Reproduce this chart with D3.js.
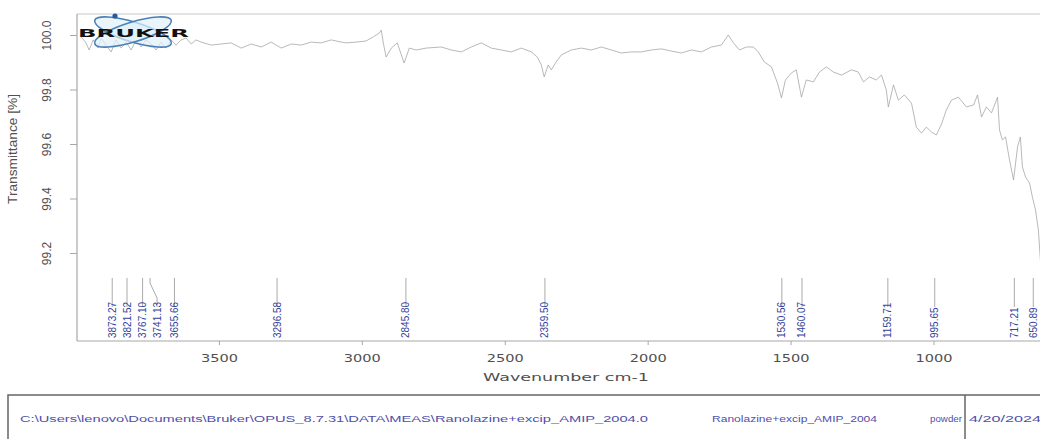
<!DOCTYPE html>
<html>
<head>
<meta charset="utf-8">
<script src="https://cdn.jsdelivr.net/npm/d3@7"></script>
<style>
  body { margin: 0; background: #fff; }
  svg { display: block; }
</style>
</head>
<body>
<div id="chart-area"></div>
<script>
// spectrum points (wavenumber cm-1, transmittance %)
var wavenumbers = [3982, 3965, 3954, 3940, 3923, 3912, 3895, 3877, 3860, 3842, 3825, 3807, 3790, 3772, 3755, 3737, 3720, 3702, 3685, 3667,
  3650, 3632, 3615, 3597, 3580, 3562, 3527, 3492, 3457, 3422, 3387, 3352, 3317, 3282, 3247, 3212, 3177, 3142, 3107, 3072,
  3055, 3020, 2985, 2960, 2939, 2932, 2925, 2915, 2897, 2876, 2852, 2834, 2810, 2775, 2722, 2687, 2652, 2617, 2582, 2547,
  2512, 2477, 2442, 2407, 2386, 2372, 2362, 2348, 2337, 2320, 2302, 2267, 2232, 2197, 2162, 2127, 2092, 2057, 2022, 1987,
  1952, 1917, 1882, 1847, 1812, 1777, 1742, 1718, 1700, 1679, 1655, 1630, 1613, 1592, 1567, 1546, 1532, 1518, 1497, 1480,
  1462, 1445, 1420, 1399, 1375, 1350, 1322, 1287, 1263, 1245, 1224, 1200, 1182, 1165, 1158, 1140, 1123, 1102, 1077, 1060,
  1042, 1025, 1007, 990, 972, 955, 937, 913, 885, 860, 846, 832, 815, 797, 776, 769, 759, 748, 734, 720,
  706, 696, 689, 678, 664, 654, 643, 633, 626, 622];
var transmittance = [99.993, 99.971, 99.945, 99.982, 99.952, 99.989, 99.963, 99.938, 99.982, 99.952, 99.974, 99.945, 99.982, 99.956, 99.982, 99.967, 99.945, 99.974, 99.952, 99.982,
  99.963, 99.982, 99.989, 99.967, 99.982, 99.974, 99.963, 99.967, 99.971, 99.952, 99.967, 99.956, 99.974, 99.952, 99.967, 99.963, 99.974, 99.971, 99.982, 99.974,
  99.971, 99.974, 99.978, 99.993, 100.007, 100.018, 99.971, 99.919, 99.952, 99.971, 99.897, 99.952, 99.945, 99.952, 99.956, 99.945, 99.938, 99.956, 99.971, 99.952,
  99.945, 99.938, 99.952, 99.938, 99.919, 99.890, 99.846, 99.890, 99.872, 99.901, 99.927, 99.945, 99.952, 99.945, 99.956, 99.945, 99.934, 99.938, 99.938, 99.945,
  99.949, 99.941, 99.934, 99.945, 99.938, 99.956, 99.963, 100.000, 99.971, 99.945, 99.956, 99.956, 99.938, 99.901, 99.883, 99.824, 99.769, 99.835, 99.861, 99.872,
  99.772, 99.835, 99.828, 99.864, 99.883, 99.864, 99.853, 99.872, 99.864, 99.828, 99.846, 99.835, 99.853, 99.798, 99.736, 99.817, 99.761, 99.780, 99.750, 99.662,
  99.640, 99.662, 99.644, 99.633, 99.673, 99.725, 99.761, 99.772, 99.736, 99.743, 99.780, 99.699, 99.736, 99.714, 99.772, 99.651, 99.615, 99.626, 99.541, 99.468,
  99.589, 99.626, 99.516, 99.479, 99.457, 99.405, 99.358, 99.284, 99.174, 99.149];

var peakPositions = [3873.27, 3821.52, 3767.10, 3741.13, 3655.66, 3296.58, 2845.80, 2359.50, 1530.56, 1460.07, 1159.71, 995.65, 717.21, 650.89];
var xTicks = [3500, 3000, 2500, 2000, 1500, 1000];
var yTicks = [100.0, 99.8, 99.6, 99.4, 99.2];
var infoTexts = ["C:\\Users\\lenovo\\Documents\\Bruker\\OPUS_8.7.31\\DATA\\MEAS\\Ranolazine+excip_AMIP_2004.0",
  "Ranolazine+excip_AMIP_2004", "powder", "4/20/2024"];

var width = 1040, height = 439;
var margin = {top: 14, left: 77, bottom: 341};

var svg = d3.select("#chart-area").append("svg")
  .attr("width", width)
  .attr("height", height);

var x = d3.scaleLinear().domain([4000, 400]).range([76, 1105]);
var y = d3.scaleLinear().domain([100, 99.2]).range([35, 253]);

var spectrum = wavenumbers.map((w, i) => ({w: w, t: transmittance[i]}));

// frame
svg.append("line")
  .attr("x1", margin.left).attr("x2", width)
  .attr("y1", margin.top).attr("y2", margin.top)
  .attr("stroke", "#c8c8c8").attr("stroke-width", 1.2);
svg.append("line")
  .attr("x1", margin.left).attr("x2", margin.left)
  .attr("y1", margin.top).attr("y2", margin.bottom)
  .attr("stroke", "#a8a8a8").attr("stroke-width", 1.2);
svg.append("line")
  .attr("x1", margin.left).attr("x2", width)
  .attr("y1", margin.bottom).attr("y2", margin.bottom)
  .attr("stroke", "#a8a8a8").attr("stroke-width", 1.2);

// y axis
let yAxis = svg.append("g")
  .attr("transform", `translate(${margin.left},0)`)
  .call(d3.axisLeft(y).tickValues(yTicks).tickSize(7).tickFormat(d3.format(".1f")));
yAxis.select(".domain").remove();
yAxis.selectAll(".tick line").attr("stroke", "#a8a8a8");
yAxis.selectAll(".tick text")
  .attr("x", 0).attr("dy", 0)
  .attr("transform", "translate(-26,0) rotate(-90)")
  .style("text-anchor", "middle")
  .style("font-family", "'Liberation Sans Narrow', 'Liberation Sans', Arial, sans-serif")
  .style("font-size", "12px")
  .attr("fill", "#505050");

svg.append("text")
  .attr("transform", "translate(17,149) rotate(-90)")
  .style("text-anchor", "middle")
  .style("font-family", "'Liberation Sans Narrow', 'Liberation Sans', Arial, sans-serif")
  .style("font-size", "12px")
  .attr("textLength", 110)
  .attr("lengthAdjust", "spacingAndGlyphs")
  .attr("fill", "#505050")
  .text("Transmittance [%]");

// x axis
let xAxis = svg.append("g")
  .attr("transform", `translate(0,${margin.bottom})`)
  .call(d3.axisBottom(x).tickValues(xTicks).tickSize(4).tickFormat(d => d));
xAxis.select(".domain").remove();
xAxis.selectAll(".tick line").attr("stroke", "#a8a8a8");
xAxis.selectAll(".tick text")
  .attr("y", 13)
  .style("font-family", "'DejaVu Sans', Verdana, sans-serif")
  .style("font-size", "11px")
  .attr("textLength", 37)
  .attr("lengthAdjust", "spacingAndGlyphs")
  .attr("fill", "#505050");

svg.append("text")
  .attr("x", 566).attr("y", 381)
  .style("text-anchor", "middle")
  .style("font-family", "'DejaVu Sans', Verdana, sans-serif")
  .style("font-size", "11px")
  .attr("textLength", 166)
  .attr("lengthAdjust", "spacingAndGlyphs")
  .attr("fill", "#505050")
  .text("Wavenumber cm-1");

// spectrum
svg.append("path")
  .datum(spectrum)
  .attr("fill", "none")
  .attr("stroke", "#a2a2a2")
  .attr("stroke-width", 0.75)
  .attr("d", d3.line().x(d => x(d.w)).y(d => y(d.t)));

// peak picks: leader lines and labels, shifted right where they crowd
let prev = -100;
let peaks = peakPositions.map(p => {
  let px = x(p);
  let lx = Math.max(px, prev + 14.5);
  prev = lx;
  return {p: p, px: px, lx: lx};
});

svg.selectAll("path.leader")
  .data(peaks)
  .enter()
  .append("path")
  .attr("class", "leader")
  .attr("fill", "none")
  .attr("stroke", "#a0a0a0")
  .attr("stroke-width", 0.9)
  .attr("d", d => d.lx === d.px
    ? `M${d.px},278V307`
    : `M${d.px},278V283L${d.lx},298V307`);

svg.selectAll("text.peak")
  .data(peaks)
  .enter()
  .append("text")
  .attr("class", "peak")
  .attr("transform", d => `translate(${d.lx + 3.5},338) rotate(-90)`)
  .style("font-family", "'Liberation Sans Narrow', 'Liberation Sans', Arial, sans-serif")
  .style("font-size", "10px")
  .attr("fill", "#34439c")
  .text(d => d3.format(".2f")(d.p));

// Bruker logo
let logo = svg.append("g");
[17, -17].forEach(a => {
  logo.append("ellipse")
    .attr("cx", 133).attr("cy", 32).attr("rx", 40).attr("ry", 10)
    .attr("transform", `rotate(${a},133,32)`)
    .attr("fill", "#dff0fa").attr("fill-opacity", 0.7)
    .attr("stroke", "#4a80b8").attr("stroke-width", 1.6);
});
logo.append("circle")
  .attr("cx", 115).attr("cy", 16).attr("r", 2.6)
  .attr("fill", "#2a5a9a");
logo.append("text")
  .attr("x", 78).attr("y", 36.5)
  .style("font-family", "'DejaVu Sans', Verdana, sans-serif")
  .style("font-weight", "bold")
  .style("font-size", "11px")
  .attr("textLength", 111)
  .attr("lengthAdjust", "spacingAndGlyphs")
  .attr("fill", "#111")
  .text("BRUKER");

// info box at the bottom
let box = svg.append("g");
box.append("path")
  .attr("fill", "none")
  .attr("stroke", "#666")
  .attr("stroke-width", 1.5)
  .attr("d", `M8,${height}V395H${width}`);
box.append("line")
  .attr("x1", 965).attr("x2", 965)
  .attr("y1", 395).attr("y2", height)
  .attr("stroke", "#666").attr("stroke-width", 1.5);

let infoX = [20, 712, 930, 969];
let infoLen = [628, 165, 32, 72];
box.selectAll("text.info")
  .data(infoTexts)
  .enter()
  .append("text")
  .attr("class", "info")
  .attr("x", (d, i) => infoX[i])
  .attr("y", 422)
  .style("font-family", "'Liberation Sans', Arial, sans-serif")
  .style("font-size", "8.5px")
  .attr("textLength", (d, i) => infoLen[i])
  .attr("lengthAdjust", "spacingAndGlyphs")
  .attr("fill", "#5050a8")
  .text(d => d);
</script>
</body>
</html>
